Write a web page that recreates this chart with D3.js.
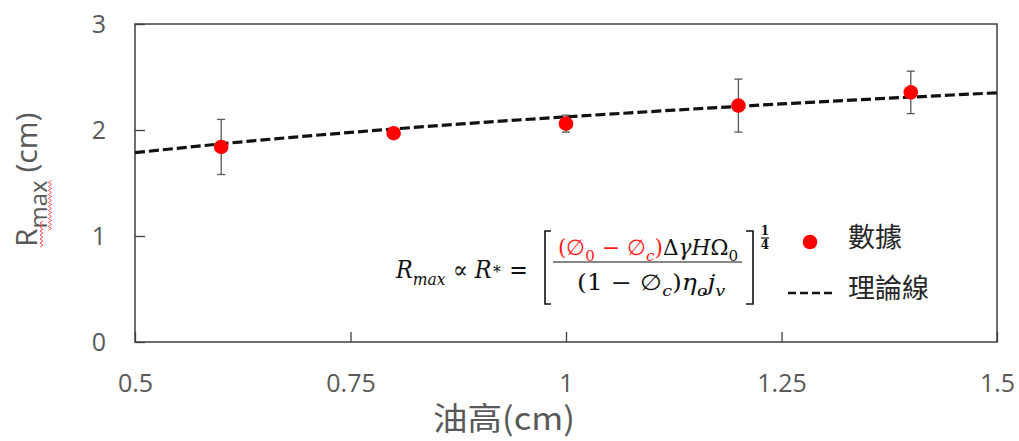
<!DOCTYPE html>
<html><head><meta charset="utf-8">
<script src="https://cdn.jsdelivr.net/npm/d3@7"></script>
<style>
html,body{margin:0;padding:0;background:#fff;}
svg{display:block;}
</style></head>
<body>
<svg id="chart" width="1019" height="441"></svg>
<script>
// ---- data ----
const xTicks = [0.5, 0.75, 1, 1.25, 1.5];
const xTickLabels = ["0.5", "0.75", "1", "1.25", "1.5"];
const yTicks = [0, 1, 2, 3];
const yTickLabels = ["0", "1", "2", "3"];
const dataX = [0.6, 0.8, 1.0, 1.2, 1.4];
const dataY = [1.84, 1.97, 2.06, 2.23, 2.355];
const dataErr = [0.26, 0.03, 0.08, 0.25, 0.2];
const theoryX = [0.5, 0.625, 0.75, 0.875, 1.0, 1.125, 1.25, 1.375, 1.5];
const theoryY = [1.786, 1.889, 1.977, 2.055, 2.124, 2.187, 2.246, 2.300, 2.351];
const legendLabels = ["數據", "理論線"];
const xTitle = "油高(cm)";

// ---- layout ----
const svg = d3.select("#chart");
const L = 135, R = 997, T = 24, B = 342;
const x = d3.scaleLinear().domain([0.5, 1.5]).range([L, R]);
const y = d3.scaleLinear().domain([0, 3]).range([B, T]);
const axisColor = "#404040", labelColor = "#595959";
const tickFont = "'Open Sans', 'Segoe UI', sans-serif";

// axes
const gx = svg.append("g").attr("transform", `translate(0,${B})`)
  .call(d3.axisBottom(x).tickValues(xTicks).tickFormat((d, i) => xTickLabels[i]).tickSize(-10).tickPadding(32));
const gy = svg.append("g").attr("transform", `translate(${L},0)`)
  .call(d3.axisLeft(y).tickValues(yTicks).tickFormat((d, i) => yTickLabels[i]).tickSize(-10).tickPadding(29));
[gx, gy].forEach(g => {
  g.select(".domain").remove();
  g.selectAll(".tick line").attr("stroke", axisColor).attr("stroke-width", 1.3);
  g.selectAll(".tick text").attr("fill", labelColor).attr("font-family", tickFont).attr("font-size", 25);
});

// plot border
svg.append("rect").attr("x", L).attr("y", T).attr("width", R - L).attr("height", B - T)
  .attr("fill", "none").attr("stroke", axisColor).attr("stroke-width", 1.5);

// theory line
svg.append("path")
  .datum(theoryX.map((d, i) => [d, theoryY[i]]))
  .attr("d", d3.line().x(d => x(d[0])).y(d => y(d[1])).curve(d3.curveMonotoneX))
  .attr("fill", "none").attr("stroke", "#111").attr("stroke-width", 3.2)
  .attr("stroke-dasharray", "10,4");

// error bars
const eb = svg.append("g").attr("stroke", "#595959").attr("stroke-width", 1.3);
dataX.forEach((d, i) => {
  const cx = x(d), y0 = y(dataY[i] - dataErr[i]), y1 = y(dataY[i] + dataErr[i]);
  eb.append("line").attr("x1", cx).attr("x2", cx).attr("y1", y0).attr("y2", y1);
  eb.append("line").attr("x1", cx - 4).attr("x2", cx + 4).attr("y1", y0).attr("y2", y0);
  eb.append("line").attr("x1", cx - 4).attr("x2", cx + 4).attr("y1", y1).attr("y2", y1);
});

// points
svg.append("g").selectAll("circle").data(dataX).join("circle")
  .attr("cx", d => x(d)).attr("cy", (d, i) => y(dataY[i])).attr("r", 7.3).attr("fill", "#ff0000");

// x title
svg.append("text").attr("x", 433).attr("y", 430)
  .attr("font-family", "'Noto Sans CJK TC', sans-serif").attr("font-size", 32)
  .attr("fill", labelColor).attr("textLength", 142).attr("lengthAdjust", "spacingAndGlyphs")
  .text(xTitle);

// y title
const yt = svg.append("g").attr("transform", "translate(37,247) rotate(-90)");
const ytt = yt.append("text").attr("font-family", tickFont).attr("fill", labelColor).attr("font-size", 30);
const tR = ytt.append("tspan").text("R");
const tMax = ytt.append("tspan").attr("font-size", 24).attr("dy", 10).text("max");
ytt.append("tspan").attr("dy", -10).text(" (cm)");
const wR = tR.node().getComputedTextLength();
const wMax = tMax.node().getComputedTextLength();
function wavy(g, x0, x1, yy) {
  const pts = [];
  for (let xx = x0, k = 0; xx <= x1; xx += 2, k++) pts.push([xx, yy + (k % 2 ? 1.5 : -1.5)]);
  g.append("path").attr("d", d3.line()(pts)).attr("fill", "none").attr("stroke", "#ff5050").attr("stroke-width", 1);
}
wavy(yt, 0, wR + 8, 4.5);
wavy(yt, wR - 2, wR + wMax, 13);

// legend
svg.append("circle").attr("cx", 810).attr("cy", 242).attr("r", 7.3).attr("fill", "#ff0000");
svg.append("line").attr("x1", 788).attr("x2", 833).attr("y1", 293).attr("y2", 293)
  .attr("stroke", "#111").attr("stroke-width", 2.4).attr("stroke-dasharray", "8,4");
svg.selectAll(".leg").data(legendLabels).join("text").attr("class", "leg")
  .attr("x", 848).attr("y", (d, i) => [247, 298][i])
  .attr("font-family", "'Noto Sans CJK TC', sans-serif").attr("font-size", 27).attr("fill", "#262626")
  .text(d => d);

// formula
const mathFont = "'DejaVu Serif', 'Liberation Serif', serif";
const red = "#ff1a1a";
function mathText(px, py, parts, size) {
  const t = svg.append("text").attr("x", px).attr("y", py)
    .attr("font-family", mathFont).attr("font-size", size).attr("fill", "#111");
  let shifted = 0;
  parts.forEach(p => {
    const ts = t.append("tspan").text(p.t);
    const target = p.sub ? Math.round(size * 0.28) : p.sup ? -Math.round(size * 0.15) : 0;
    const dy = target - shifted;
    if (dy) ts.attr("dy", dy);
    shifted = target;
    if (p.sub || p.sup) ts.attr("font-size", size * 0.7);
    if (p.i) ts.attr("font-style", "italic");
    if (p.c) ts.attr("fill", p.c);
  });
  return t;
}
function fitX(t, x0, x1) {
  const bb = t.node().getBBox();
  const sx = (x1 - x0) / bb.width;
  t.attr("transform", `translate(${x0 - sx * bb.x},0) scale(${sx},1)`);
}
const lhs = mathText(0, 278, [
  {t: "R", i: 1}, {t: "max", sub: 1, i: 1}, {t: "  ∝ "}, {t: "R", i: 1}, {t: "∗", sup: 1}, {t: " ="}
], 24);
fitX(lhs, 395, 528);
const num = mathText(0, 255, [
  {t: "(", c: red}, {t: "∅", c: red}, {t: "0", sub: 1, c: red}, {t: " − ", c: red}, {t: "∅", c: red},
  {t: "c", sub: 1, i: 1, c: red}, {t: ")", c: red}, {t: "Δ"}, {t: "γ", i: 1}, {t: "H", i: 1}, {t: "Ω"}, {t: "0", sub: 1}
], 22);
fitX(num, 558, 738);
const den = mathText(0, 290, [
  {t: "(1 − "}, {t: "∅"}, {t: "c", sub: 1, i: 1}, {t: ")"}, {t: "η", i: 1}, {t: "o", sub: 1, i: 1},
  {t: "j", i: 1}, {t: "v", sub: 1, i: 1}
], 22);
fitX(den, 577, 725);
svg.append("line").attr("x1", 553).attr("x2", 742).attr("y1", 262).attr("y2", 262).attr("stroke", "#111").attr("stroke-width", 1.2);
svg.append("path").attr("d", "M551,231 H545 V304 H551").attr("fill", "none").attr("stroke", "#111").attr("stroke-width", 1.6);
svg.append("path").attr("d", "M746,231 H753 V304 H746").attr("fill", "none").attr("stroke", "#111").attr("stroke-width", 1.6);
svg.append("text").attr("x", 765).attr("y", 235).attr("text-anchor", "middle").attr("font-family", mathFont)
  .attr("font-size", 12).attr("font-weight", "bold").attr("fill", "#111").text("1");
svg.append("line").attr("x1", 761).attr("x2", 769).attr("y1", 238).attr("y2", 238).attr("stroke", "#111").attr("stroke-width", 1.2);
svg.append("text").attr("x", 765).attr("y", 249).attr("text-anchor", "middle").attr("font-family", mathFont)
  .attr("font-size", 12).attr("font-weight", "bold").attr("fill", "#111").text("4");
</script>
</body></html>
